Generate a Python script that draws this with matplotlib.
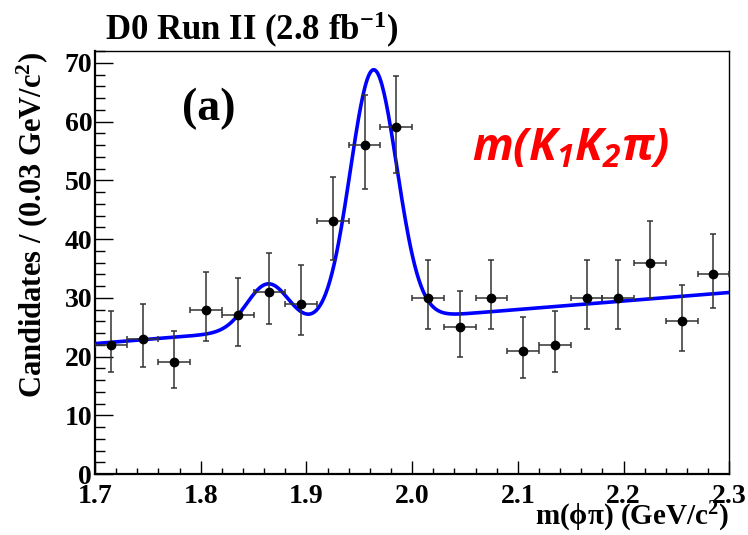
import numpy as np
import matplotlib
matplotlib.use("Agg")
import matplotlib.pyplot as plt
from matplotlib.ticker import MultipleLocator

# Bin centres (0.03 GeV/c^2 bins) and event counts
bin_centers = [1.715, 1.745, 1.775, 1.805, 1.835, 1.865, 1.895, 1.925, 1.955, 1.985,
               2.015, 2.045, 2.075, 2.105, 2.135, 2.165, 2.195, 2.225, 2.255, 2.285]
counts = [22, 23, 19, 28, 27, 31, 29, 43, 56, 59,
          30, 25, 30, 21, 22, 30, 30, 36, 26, 34]
# asymmetric Poisson errors (low / high)
err_low = [4.7, 4.8, 4.3, 5.3, 5.2, 5.5, 5.4, 6.5, 7.5, 7.7,
           5.4, 5.0, 5.4, 4.6, 4.7, 5.4, 5.4, 6.0, 5.1, 5.8]
err_high = [5.8, 5.9, 5.4, 6.4, 6.3, 6.6, 6.5, 7.6, 8.5, 8.7,
            6.5, 6.1, 6.5, 5.7, 5.8, 6.5, 6.5, 7.1, 6.2, 6.9]
bin_half_width = 0.015

# Fit result: linear background + two Gaussians (D+ and Ds)
bkg_at_start = 22.2      # background level at 1.7 GeV
bkg_slope = 14.5         # per GeV
dplus_mass, dplus_sigma, dplus_amp = 1.8635, 0.020, 7.8
ds_mass, ds_sigma, ds_amp = 1.9635, 0.022, 42.8
x_range = (1.7, 2.3)


def fit_model(m):
    bkg = bkg_at_start + bkg_slope * (m - x_range[0])
    dplus = dplus_amp * np.exp(-0.5 * ((m - dplus_mass) / dplus_sigma) ** 2)
    ds = ds_amp * np.exp(-0.5 * ((m - ds_mass) / ds_sigma) ** 2)
    return bkg + dplus + ds


plt.rcParams["font.family"] = ["Liberation Serif", "DejaVu Serif"]
plt.rcParams["font.weight"] = "bold"
plt.rcParams["axes.labelweight"] = "bold"
plt.rcParams["mathtext.fontset"] = "custom"
plt.rcParams["mathtext.rm"] = "Liberation Serif:bold"
plt.rcParams["mathtext.it"] = "Liberation Serif:italic:bold"
plt.rcParams["mathtext.sf"] = "Open Sans:italic:bold"

fig = plt.figure(figsize=(7.48, 5.35), dpi=100)
ax = fig.add_axes([0.127, 0.114, 0.848, 0.7906])

xs = np.linspace(x_range[0], x_range[1], 600)
ax.plot(xs, fit_model(xs), color="#0000ff", lw=2.6, zorder=2)

ax.errorbar(bin_centers, counts,
            xerr=bin_half_width, yerr=[err_low, err_high],
            fmt="o", color="black", ms=6, ecolor="#333333",
            elinewidth=1.1, capsize=2.2, capthick=1.1, zorder=3)

ax.set_xlim(*x_range)
ax.set_ylim(0, 72)
ax.xaxis.set_major_locator(MultipleLocator(0.1))
ax.xaxis.set_minor_locator(MultipleLocator(0.02))
ax.yaxis.set_major_locator(MultipleLocator(10))
ax.yaxis.set_minor_locator(MultipleLocator(2))
ax.xaxis.set_major_formatter(plt.FormatStrFormatter("%.1f"))

ax.tick_params(axis="both", which="both", direction="in", top=False, right=False,
               labelsize=20, width=1.0)
ax.tick_params(axis="x", which="major", length=9.4, pad=7)
ax.tick_params(axis="x", which="minor", length=4.3)
ax.tick_params(axis="y", which="major", length=13, pad=2)
ax.tick_params(axis="y", which="minor", length=7.2)

for side in ["left", "bottom"]:
    ax.spines[side].set_linewidth(1.6)
for side in ["top", "right"]:
    ax.spines[side].set_linewidth(1.0)

# axis titles sit at the far end of each axis
fig.text(729 / 748, 1 - 525 / 535, "m(\u03d5\u03c0) (GeV/c$^{2}$)",
         fontsize=21, fontweight="bold", ha="right", va="baseline")
fig.text(32 / 748, 1 - 52 / 535, r"Candidates / (0.03 GeV/c$^{2}$)",
         fontsize=22, fontweight="bold", rotation=90, ha="center", va="top")

fig.text(105 / 748, 1 - 40 / 535, r"D0 Run II (2.8 fb$^{-1}$)",
         fontsize=25, ha="left", va="baseline")

ax.text(0.18, 0.837, "(a)", transform=ax.transAxes, fontsize=33,
        ha="center", va="baseline")

ax.text(0.594, 0.742, r"$\mathsf{m(K_1K_2\pi)}$", transform=ax.transAxes,
        fontsize=32.5, color="#ff0000", ha="left", va="baseline")

fig.savefig("out.png", dpi=100)
